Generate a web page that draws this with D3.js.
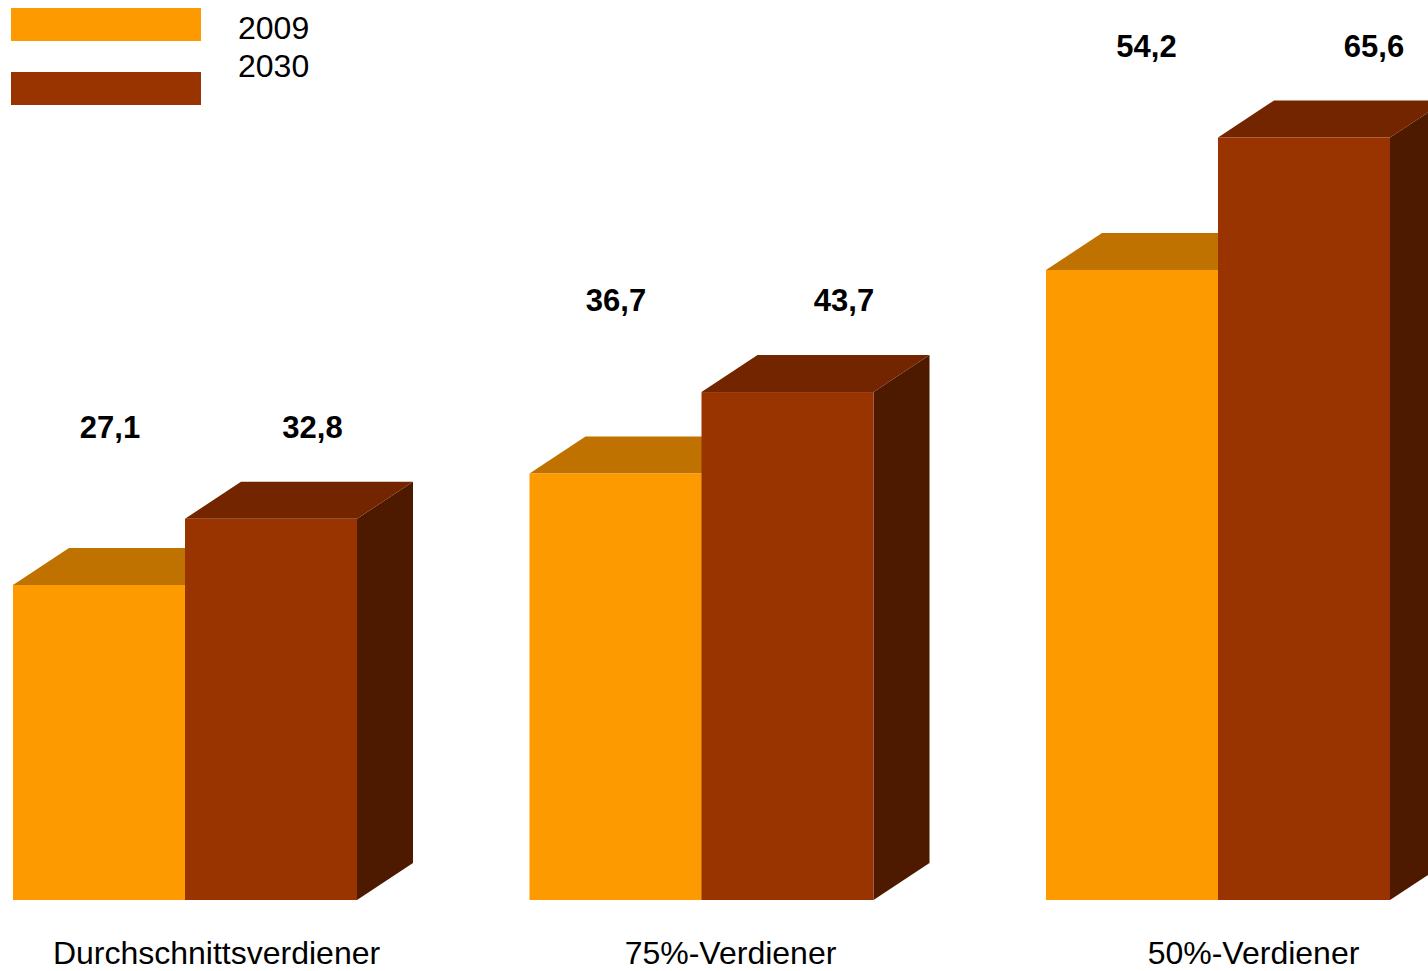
<!DOCTYPE html>
<html>
<head>
<meta charset="utf-8">
<script src="https://cdn.jsdelivr.net/npm/d3@7"></script>
<style>
  html, body { margin: 0; padding: 0; background: #fff; }
  svg { display: block; font-family: "Liberation Sans", Arial, Helvetica, sans-serif; }
</style>
</head>
<body>
<svg id="chart" width="1428" height="971"></svg>
<script>
const categories = ["Durchschnittsverdiener", "75%-Verdiener", "50%-Verdiener"];
const seriesNames = ["2009", "2030"];
const values2009 = [27.1, 36.7, 54.2];
const values2030 = [32.8, 43.7, 65.6];
const valueLabels2009 = ["27,1", "36,7", "54,2"];
const valueLabels2030 = ["32,8", "43,7", "65,6"];

const frontColors = ["#FD9A00", "#993300"];
const topColors = ["#C07200", "#732500"];
const sideColors = ["#A86400", "#4D1A00"];

const W = 1428, H = 971;
const svg = d3.select("#chart");

const baseY = 900;
const depthX = 56, depthY = 37;
const barW = 172;

const x0 = d3.scaleBand().domain(categories).range([13, 13 + 3 * 516.5]).paddingInner(0).paddingOuter(0);
const x1 = d3.scaleBand().domain(seriesNames).range([0, 2 * barW]);
const y = d3.scaleLinear().domain([0, 65.6]).range([baseY, 137.5]);

const series = [values2009, values2030];
const labels = [valueLabels2009, valueLabels2030];

const gBars = svg.append("g");

categories.forEach((cat, ci) => {
  const g = gBars.append("g");
  seriesNames.forEach((s, si) => {
    const v = series[si][ci];
    const xl = x0(cat) + x1(s);
    const xr = xl + x1.bandwidth();
    const yt = y(v);
    g.append("path")
      .attr("d", `M${xr},${yt} L${xr + depthX},${yt - depthY} L${xr + depthX},${baseY - depthY} L${xr},${baseY} Z`)
      .attr("fill", sideColors[si]);
    g.append("path")
      .attr("d", `M${xl},${yt} L${xl + depthX},${yt - depthY} L${xr + depthX},${yt - depthY} L${xr},${yt} Z`)
      .attr("fill", topColors[si]);
    g.append("rect")
      .attr("x", xl).attr("y", yt)
      .attr("width", xr - xl).attr("height", baseY - yt)
      .attr("fill", frontColors[si]);
  });
});

// value labels
const labelXScales = [
  d3.scaleLinear().domain([0, 1, 2]).range([110, 616, 1146.5]),
  d3.scaleLinear().domain([0, 1, 2]).range([312.5, 844, 1374])
];
categories.forEach((cat, ci) => {
  const topVal = Math.max(values2009[ci], values2030[ci]);
  const ly = y(topVal) - depthY - 44;
  seriesNames.forEach((s, si) => {
    svg.append("text")
      .attr("x", labelXScales[si](ci))
      .attr("y", ly)
      .attr("text-anchor", "middle")
      .attr("font-size", 31)
      .attr("font-weight", "bold")
      .attr("fill", "#000")
      .text(labels[si][ci]);
  });
});

// category labels
const catLabelX = d3.scaleLinear().domain([0, 1, 2]).range([216.5, 730.5, 1253.5]);
categories.forEach((cat, ci) => {
  svg.append("text")
    .attr("x", catLabelX(ci))
    .attr("y", 964)
    .attr("text-anchor", "middle")
    .attr("font-size", 32)
    .attr("fill", "#000")
    .text(cat);
});

// legend
const legend = svg.append("g");
seriesNames.forEach((s, si) => {
  legend.append("rect")
    .attr("x", 11).attr("y", 8 + si * 64)
    .attr("width", 190).attr("height", 33)
    .attr("fill", frontColors[si]);
  legend.append("text")
    .attr("x", 238).attr("y", 39 + si * 38)
    .attr("font-size", 32)
    .attr("fill", "#000")
    .text(s);
});
</script>
</body>
</html>
